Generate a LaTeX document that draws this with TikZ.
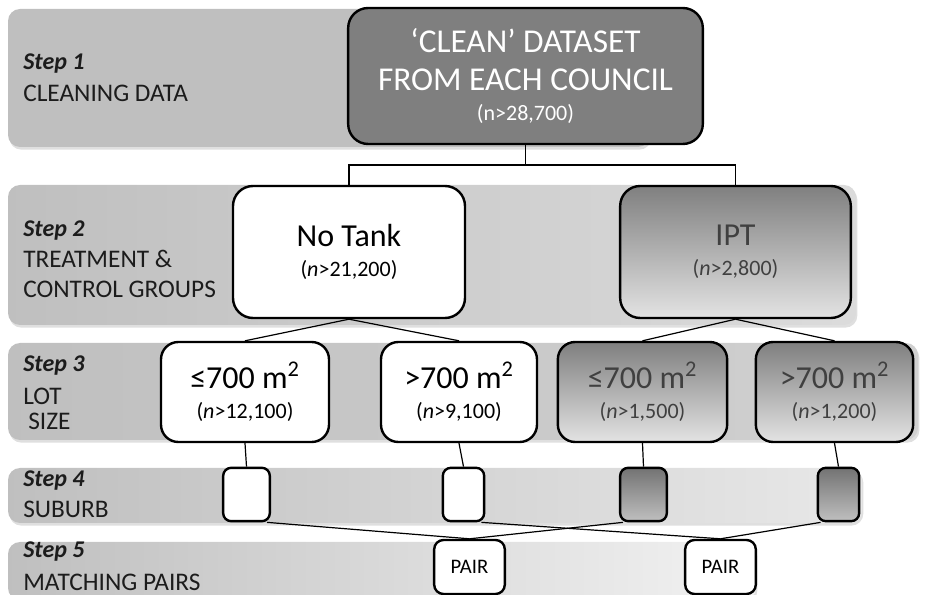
\documentclass[tikz,border=0pt]{standalone}
\usepackage{fontspec}
\setmainfont{Carlito}
\usetikzlibrary{shadows}

\definecolor{boxgray}{HTML}{7F7F7F}
\definecolor{ipttext}{HTML}{404040}
\definecolor{steptext}{HTML}{1C1C1C}

\tikzstyle{band}=[rounded corners=9pt,drop shadow={shadow xshift=1pt,shadow yshift=-2pt,opacity=0.25}]
\tikzstyle{box}=[draw=black,line width=1.8pt,rounded corners=15pt,inner sep=0pt,align=center,font=\fontsize{24}{22.5}\selectfont]
\tikzstyle{white box}=[box,fill=white,text=black]
\tikzstyle{ipt box}=[box,top color=gray,bottom color=gray!22,text=ipttext]
\tikzstyle{small box}=[box,rounded corners=6pt,minimum width=33pt,minimum height=40pt]
\tikzstyle{step label}=[anchor=base west,inner sep=0pt,text=steptext,font=\fontsize{18}{18}\selectfont\bfseries\itshape]
\tikzstyle{step name}=[anchor=base west,inner sep=0pt,text=steptext,font=\fontsize{19}{19}\selectfont]
\tikzstyle{link}=[draw,line width=0.9pt,black]

\newcommand{\ntxt}{\fontsize{16.5}{22.5}\selectfont}

\begin{document}
\begin{tikzpicture}[x=0.75pt,y=-0.75pt]
	\useasboundingbox (0,0) rectangle (926,595);
	% the five grey bands
	\fill[band,fill=gray!50] (8,9) rectangle (650,147);
	\shade[band,left color=gray!50,middle color=gray!47,right color=gray!28] (8,185) rectangle (856,325);
	\shade[band,left color=gray!50,middle color=gray!50,right color=gray!36] (8,343) rectangle (918,440);
	\shade[band,left color=gray!50,middle color=gray!48,right color=gray!18] (8,468) rectangle (862,523);
	\shade[band,left color=gray!50,middle color=gray!48,right color=gray!10] (8,542) rectangle (756,600);

	% step names
	\node[step label] (st1) at (23,70) {Step 1};
	\node[step name] (nm1) at (23,102) {CLEANING DATA};
	\node[step label] (st2) at (23,237) {Step 2};
	\node[step name] (nm2a) at (23,268) {TREATMENT \&};
	\node[step name] (nm2b) at (23,298) {CONTROL GROUPS};
	\node[step label] (st3) at (23,372) {Step 3};
	\node[step name] (nm3a) at (23,405) {LOT};
	\node[step name] (nm3b) at (28,430) {SIZE};
	\node[step label] (st4) at (23,487) {Step 4};
	\node[step name] (nm4) at (23,518) {SUBURB};
	\node[step label] (st5) at (23,558) {Step 5};
	\node[step name] (nm5) at (23,590) {MATCHING PAIRS};

	% boxes
	\node[box,fill=boxgray,text=white,minimum width=266pt,minimum height=102pt,font=\fontsize{25}{28.5}\selectfont] (clean) at (525.5,76)
		{‘CLEAN’ DATASET\\FROM EACH COUNCIL\\[-6pt]\ntxt (n>28,700)};
	\node[white box,minimum width=174pt,minimum height=99pt] (notank) at (349,252)
		{No Tank\\\ntxt (\textit{n}>21,200)};
	\node[ipt box,minimum width=173pt,minimum height=99pt] (ipt) at (735.5,252)
		{IPT\\\ntxt (\textit{n}>2,800)};
	\node[white box,rounded corners=13pt,minimum width=126pt,minimum height=75pt] (lot1) at (245,392)
		{≤700 m\textsuperscript{2}\\\ntxt (\textit{n}>12,100)};
	\node[white box,rounded corners=13pt,minimum width=117pt,minimum height=75pt] (lot2) at (459,392)
		{>700 m\textsuperscript{2}\\\ntxt (\textit{n}>9,100)};
	\node[ipt box,rounded corners=13pt,minimum width=127pt,minimum height=75pt] (lot3) at (642.5,392)
		{≤700 m\textsuperscript{2}\\\ntxt (\textit{n}>1,500)};
	\node[ipt box,rounded corners=13pt,minimum width=118pt,minimum height=75pt] (lot4) at (834.5,392)
		{>700 m\textsuperscript{2}\\\ntxt (\textit{n}>1,200)};
	\node[small box,fill=white,minimum width=35pt] (sub1) at (246.5,494.5) {};
	\node[small box,fill=white,minimum width=31pt] (sub2) at (463.5,494.5) {};
	\node[small box,top color=gray!110,bottom color=gray!50,minimum width=35pt] (sub3) at (643.5,494.5) {};
	\node[small box,top color=gray!110,bottom color=gray!50,minimum width=31pt] (sub4) at (838.5,494.5) {};
	\node[white box,rounded corners=7pt,minimum width=53pt,minimum height=40.5pt,font=\fontsize{15.5}{15.5}\selectfont] (pair1) at (469.5,567) {PAIR};
	\node[white box,rounded corners=7pt,minimum width=53pt,minimum height=40.5pt,font=\fontsize{15.5}{15.5}\selectfont] (pair2) at (720.5,567) {PAIR};

	% Connect boxes with lines
	\coordinate (split) at (525.5,165);
	\draw[link] (clean.south) -- (split);
	\draw[link] (notank.north) |- (split) -| (ipt.north);
	\foreach \source/ \dest in {notank/lot1, notank/lot2, ipt/lot3, ipt/lot4, lot1/sub1, lot2/sub2, lot3/sub3, lot4/sub4}
		\path[link] (\source.south) to (\dest.north);
	\foreach \source/ \dest in {sub1/pair1, sub2/pair2}
		\path[link] ([xshift=-3pt]\source.south east) to (\dest.north);
	\foreach \source/ \dest in {sub3/pair1, sub4/pair2}
		\path[link] ([xshift=3pt]\source.south west) to (\dest.north);
\end{tikzpicture}
\end{document}
